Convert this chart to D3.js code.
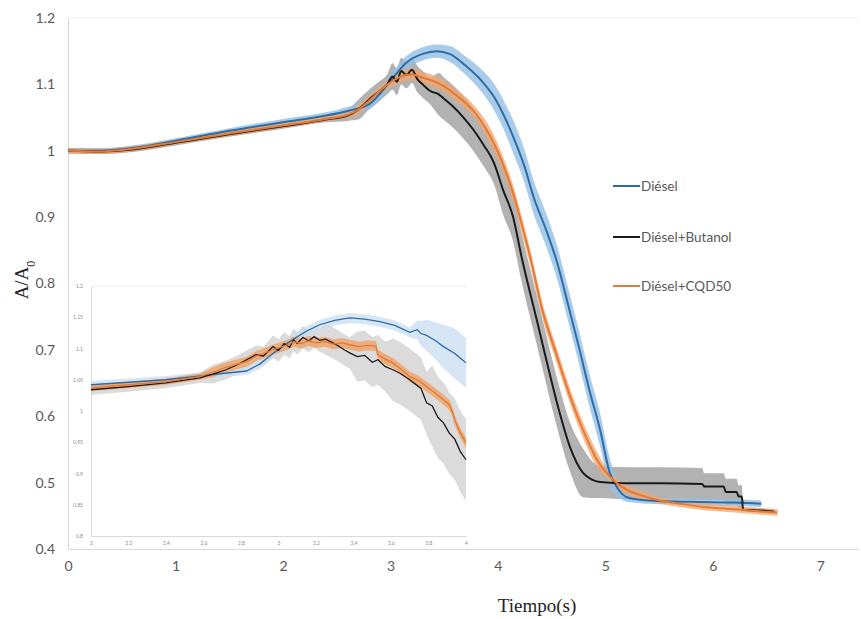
<!DOCTYPE html>
<html>
<head>
<meta charset="utf-8">
<script src="https://cdn.jsdelivr.net/npm/d3@7"></script>
<style>
  body { margin: 0; background: #fff; }
  svg { display: block; }
</style>
</head>
<body>
<svg id="chart" width="861" height="619"></svg>
<script>
// ---- data ----
const xTicks = [0, 1, 2, 3, 4, 5, 6, 7]
const yTicks = [0.4, 0.5, 0.6, 0.7, 0.8, 0.9, 1, 1.1, 1.2]
const insetXTicks = [2, 2.2, 2.4, 2.6, 2.8, 3, 3.2, 3.4, 3.6, 3.8, 4]
const insetYTicks = [0.8, 0.85, 0.9, 0.95, 1, 1.05, 1.1, 1.15, 1.2]

const seriesNames = ['Diésel', 'Diésel+Butanol', 'Diésel+CQD50']

// Diésel
const timeDiesel = [0, 0.3, 0.6, 1.0, 1.5, 2.0, 2.4, 2.6, 2.8, 3.0, 3.15, 3.3, 3.43, 3.55, 3.7, 3.85, 3.96, 4.05, 4.14, 4.25, 4.33, 4.45, 4.55, 4.65, 4.76, 4.85, 4.95, 5.04, 5.12, 5.2, 5.4, 5.8, 6.2, 6.45]
const valDiesel = [1.0, 1.0, 1.004, 1.015, 1.03, 1.043, 1.053, 1.06, 1.07, 1.105, 1.133, 1.146, 1.15, 1.146, 1.128, 1.105, 1.082, 1.055, 1.022, 0.975, 0.931, 0.88, 0.832, 0.77, 0.70, 0.64, 0.58, 0.515, 0.49, 0.478, 0.473, 0.471, 0.47, 0.468]
const sdDiesel = [0.004, 0.004, 0.004, 0.004, 0.004, 0.005, 0.005, 0.006, 0.008, 0.01, 0.01, 0.01, 0.01, 0.012, 0.014, 0.017, 0.02, 0.022, 0.025, 0.025, 0.025, 0.025, 0.025, 0.025, 0.025, 0.025, 0.025, 0.022, 0.012, 0.007, 0.005, 0.005, 0.005, 0.005]

// Diésel+Butanol
const timeButanol = [0, 0.3, 0.6, 1.0, 1.5, 2.0, 2.4, 2.6, 2.7, 2.8, 2.9, 2.97, 3.02, 3.06, 3.1, 3.15, 3.2, 3.25, 3.3, 3.37, 3.45, 3.5, 3.58, 3.68, 3.77, 3.87, 3.96, 4.05, 4.14, 4.22, 4.36, 4.45, 4.55, 4.67, 4.79, 4.87, 4.95, 5.2, 5.5, 5.9, 5.92, 6.1, 6.12, 6.22, 6.24, 6.27, 6.28, 6.45, 6.57]
const valButanol = [1.0, 0.999, 1.002, 1.012, 1.025, 1.037, 1.047, 1.053, 1.062, 1.077, 1.09, 1.1, 1.112, 1.104, 1.12, 1.114, 1.122, 1.108, 1.1, 1.09, 1.085, 1.078, 1.067, 1.05, 1.032, 1.008, 0.983, 0.94, 0.901, 0.84, 0.746, 0.685, 0.62, 0.554, 0.515, 0.505, 0.501, 0.499, 0.499, 0.498, 0.494, 0.494, 0.486, 0.486, 0.479, 0.479, 0.459, 0.458, 0.456]
const sdButanol = [0.004, 0.004, 0.004, 0.004, 0.004, 0.004, 0.004, 0.008, 0.015, 0.015, 0.015, 0.015, 0.02, 0.02, 0.02, 0.02, 0.02, 0.02, 0.02, 0.02, 0.032, 0.032, 0.032, 0.032, 0.032, 0.032, 0.032, 0.037, 0.037, 0.037, 0.037, 0.037, 0.037, 0.037, 0.037, 0.028, 0.024, 0.024, 0.024, 0.024, 0.02, 0.02, 0.02, 0.02, 0.017, 0.017, 0.003, 0.003, 0.003]

// Diésel+CQD50
const timeCqd = [0, 0.3, 0.6, 1.0, 1.5, 2.0, 2.4, 2.6, 2.7, 2.8, 2.9, 3.0, 3.1, 3.2, 3.3, 3.4, 3.5, 3.6, 3.7, 3.8, 3.9, 3.99, 4.07, 4.14, 4.22, 4.3, 4.42, 4.53, 4.64, 4.74, 4.83, 4.92, 5.01, 5.1, 5.2, 5.35, 5.48, 5.7, 5.94, 6.2, 6.35, 6.5, 6.6]
const valCqd = [1.0, 0.999, 1.003, 1.013, 1.026, 1.038, 1.048, 1.054, 1.062, 1.075, 1.09, 1.103, 1.112, 1.115, 1.11, 1.105, 1.097, 1.085, 1.072, 1.055, 1.03, 1.002, 0.97, 0.937, 0.89, 0.84, 0.756, 0.70, 0.645, 0.60, 0.565, 0.535, 0.515, 0.5, 0.489, 0.48, 0.474, 0.468, 0.463, 0.46, 0.458, 0.456, 0.455]
const sdCqd = [0.004, 0.004, 0.004, 0.004, 0.004, 0.004, 0.004, 0.004, 0.007, 0.007, 0.007, 0.007, 0.009, 0.009, 0.009, 0.009, 0.009, 0.009, 0.009, 0.009, 0.012, 0.012, 0.012, 0.012, 0.012, 0.012, 0.012, 0.012, 0.012, 0.012, 0.012, 0.012, 0.007, 0.007, 0.007, 0.007, 0.005, 0.005, 0.005, 0.005, 0.005, 0.005, 0.005]

// inset (zoom of 2 s – 4 s)
const insetTimeDiesel = [2.0, 2.2, 2.4, 2.55, 2.7, 2.83, 2.9, 2.97, 3.03, 3.08, 3.15, 3.22, 3.3, 3.38, 3.46, 3.54, 3.62, 3.7, 3.74, 3.76, 3.79, 3.84, 3.88, 3.94, 3.98, 4.0]
const insetValDiesel = [1.042, 1.046, 1.05, 1.055, 1.06, 1.064, 1.075, 1.092, 1.105, 1.115, 1.128, 1.138, 1.145, 1.149, 1.147, 1.143, 1.137, 1.126, 1.13, 1.124, 1.121, 1.112, 1.103, 1.092, 1.082, 1.077]
const insetSdDiesel = [0.006, 0.006, 0.006, 0.006, 0.006, 0.006, 0.008, 0.008, 0.008, 0.008, 0.008, 0.008, 0.008, 0.008, 0.008, 0.008, 0.008, 0.008, 0.015, 0.02, 0.025, 0.03, 0.035, 0.04, 0.04, 0.04]

const insetTimeButanol = [2.0, 2.2, 2.4, 2.58, 2.65, 2.72, 2.78, 2.83, 2.88, 2.92, 2.97, 3.0, 3.03, 3.06, 3.08, 3.1, 3.13, 3.16, 3.19, 3.22, 3.25, 3.29, 3.32, 3.35, 3.38, 3.42, 3.46, 3.5, 3.53, 3.57, 3.61, 3.65, 3.7, 3.73, 3.76, 3.79, 3.82, 3.85, 3.88, 3.91, 3.94, 3.97, 4.0]
const insetValButanol = [1.034, 1.039, 1.045, 1.053, 1.059, 1.066, 1.074, 1.082, 1.09, 1.088, 1.103, 1.097, 1.108, 1.102, 1.114, 1.108, 1.118, 1.112, 1.119, 1.113, 1.115, 1.109, 1.104, 1.098, 1.093, 1.087, 1.089, 1.078, 1.082, 1.071, 1.066, 1.06, 1.05, 1.043, 1.036, 1.013, 1.008, 0.99, 0.981, 0.965, 0.955, 0.935, 0.922]
const insetSdButanol = [0.008, 0.008, 0.008, 0.008, 0.015, 0.015, 0.015, 0.015, 0.015, 0.015, 0.018, 0.018, 0.018, 0.018, 0.018, 0.018, 0.018, 0.018, 0.018, 0.018, 0.025, 0.025, 0.025, 0.025, 0.025, 0.04, 0.04, 0.04, 0.04, 0.04, 0.05, 0.05, 0.05, 0.05, 0.05, 0.05, 0.065, 0.065, 0.065, 0.065, 0.065, 0.065, 0.065]

const insetTimeCqd = [2.0, 2.2, 2.4, 2.58, 2.65, 2.72, 2.78, 2.83, 2.88, 2.92, 2.97, 3.01, 3.05, 3.08, 3.12, 3.16, 3.2, 3.25, 3.29, 3.34, 3.38, 3.43, 3.47, 3.52, 3.53, 3.57, 3.61, 3.65, 3.7, 3.75, 3.79, 3.83, 3.88, 3.91, 3.93, 3.94, 3.97, 4.0]
const insetValCqd = [1.037, 1.042, 1.047, 1.055, 1.062, 1.07, 1.075, 1.079, 1.088, 1.092, 1.098, 1.102, 1.106, 1.111, 1.108, 1.112, 1.109, 1.111, 1.107, 1.109, 1.106, 1.103, 1.105, 1.104, 1.09, 1.083, 1.077, 1.068, 1.055, 1.048, 1.039, 1.03, 1.018, 1.01, 0.997, 0.985, 0.965, 0.949]
const insetSdCqd = [0.005, 0.005, 0.005, 0.005, 0.008, 0.008, 0.008, 0.008, 0.008, 0.008, 0.008, 0.008, 0.008, 0.008, 0.008, 0.008, 0.008, 0.008, 0.008, 0.008, 0.008, 0.008, 0.008, 0.008, 0.008, 0.008, 0.008, 0.008, 0.008, 0.008, 0.008, 0.008, 0.008, 0.008, 0.008, 0.008, 0.008, 0.008]

// ---- drawing ----
const svg = d3.select('#chart')
const lineColors = ['#2e6ca4', '#1a1a1a', '#e57a35']
const bandColors = ['#93bfe6', '#7f7f7f', '#f2a56e']
const bandOpacity = [0.8, 0.6, 0.75]
const axisColor = '#d9d9d9'
const labelColor = '#595959'

function zip(t, v, sd) {
  return t.map((d, i) => ({ t: d, v: v[i], sd: sd[i] }))
}

const mainSeries = [
  zip(timeDiesel, valDiesel, sdDiesel),
  zip(timeButanol, valButanol, sdButanol),
  zip(timeCqd, valCqd, sdCqd)
]
const insetSeries = [
  zip(insetTimeDiesel, insetValDiesel, insetSdDiesel),
  zip(insetTimeButanol, insetValButanol, insetSdButanol),
  zip(insetTimeCqd, insetValCqd, insetSdCqd)
]

const x = d3.scaleLinear().domain([0, 7.35]).range([68, 858])
const y = d3.scaleLinear().domain([0.4, 1.2]).range([549, 18])

// faint top border
svg.append('line')
  .attr('x1', x(0)).attr('x2', x(7.35))
  .attr('y1', y(1.2)).attr('y2', y(1.2))
  .style('stroke', '#f0f0f0')

const xAxis = svg.append('g')
  .attr('transform', `translate(0,${y(0.4)})`)
  .call(d3.axisBottom(x).tickValues(xTicks).tickSize(0).tickPadding(12).tickFormat(d3.format('d')))
const yAxis = svg.append('g')
  .attr('transform', `translate(${x(0)},0)`)
  .call(d3.axisLeft(y).tickValues(yTicks).tickSize(0).tickPadding(13).tickFormat(d => +d.toFixed(1)))

for (const ax of [xAxis, yAxis]) {
  ax.select('.domain').style('stroke', axisColor).style('stroke-width', 1.2)
  ax.selectAll('text')
    .style('font-family', 'Lato, "Open Sans", sans-serif')
    .style('font-size', '14px')
    .style('fill', labelColor)
}

// axis titles
const yTitle = svg.append('text')
  .attr('transform', 'translate(28,280) rotate(-90)')
  .attr('text-anchor', 'middle')
  .style('font-family', '"Liberation Serif", "Times New Roman", serif')
  .style('font-size', '19px')
  .style('fill', '#222')
yTitle.append('tspan').text('A/A')
yTitle.append('tspan').text('0').attr('baseline-shift', 'sub').style('font-size', '12px')

svg.append('text')
  .attr('x', 537).attr('y', 612)
  .attr('text-anchor', 'middle')
  .style('font-family', '"Liberation Serif", "Times New Roman", serif')
  .style('font-size', '19px')
  .style('fill', '#222')
  .text('Tiempo(s)')

// main bands and lines
const mainArea = d3.area().curve(d3.curveMonotoneX)
  .x(d => x(d.t)).y0(d => y(d.v - d.sd)).y1(d => y(d.v + d.sd))
const mainLine = d3.line().curve(d3.curveMonotoneX)
  .x(d => x(d.t)).y(d => y(d.v))

const bandOrder = [1, 0, 2]
bandOrder.forEach(i => {
  svg.append('path')
    .datum(mainSeries[i])
    .attr('d', mainArea)
    .style('fill', bandColors[i])
    .style('fill-opacity', bandOpacity[i])
})
;[0, 1, 2].forEach(i => {
  svg.append('path')
    .datum(mainSeries[i])
    .attr('d', mainLine)
    .style('fill', 'none')
    .style('stroke', lineColors[i])
    .style('stroke-width', 2)
})

// legend
const legendY = [186, 237, 286]
seriesNames.forEach((name, i) => {
  svg.append('line')
    .attr('x1', 613).attr('x2', 640)
    .attr('y1', legendY[i]).attr('y2', legendY[i])
    .style('stroke', lineColors[i])
    .style('stroke-width', 2)
  svg.append('text')
    .attr('x', 641).attr('y', legendY[i] + 5)
    .style('font-family', 'Lato, "Open Sans", sans-serif')
    .style('font-size', '13.5px')
    .style('fill', labelColor)
    .text(name)
})

// ---- inset ----
const ix = d3.scaleLinear().domain([2, 4]).range([91, 466])
const iy = d3.scaleLinear().domain([0.8, 1.2]).range([536, 286])
const inset = svg.append('g')

inset.append('rect')
  .attr('x', 69).attr('y', 279)
  .attr('width', 404).attr('height', 269)
  .style('fill', '#fff')

inset.append('line')
  .attr('x1', ix(2)).attr('x2', ix(4))
  .attr('y1', iy(1.2)).attr('y2', iy(1.2))
  .style('stroke', '#ececec')

const ixAxis = inset.append('g')
  .attr('transform', `translate(0,${iy(0.8)})`)
  .call(d3.axisBottom(ix).tickValues(insetXTicks).tickSize(0).tickPadding(5).tickFormat(d => +d.toFixed(1)))
const iyAxis = inset.append('g')
  .attr('transform', `translate(${ix(2)},0)`)
  .call(d3.axisLeft(iy).tickValues(insetYTicks).tickSize(0).tickPadding(8).tickFormat(d => +d.toFixed(2)))
for (const ax of [ixAxis, iyAxis]) {
  ax.select('.domain').style('stroke', axisColor)
  ax.selectAll('text')
    .style('font-family', 'Lato, sans-serif')
    .style('font-size', '5px')
    .style('fill', '#8c8c8c')
}

inset.append('clipPath').attr('id', 'insetClip')
  .append('rect')
  .attr('x', ix(2)).attr('y', iy(1.2))
  .attr('width', ix(4) - ix(2) + 2).attr('height', iy(0.8) - iy(1.2))

const insetPlot = inset.append('g').attr('clip-path', 'url(#insetClip)')
const insetArea = d3.area()
  .x(d => ix(d.t)).y0(d => iy(d.v - d.sd)).y1(d => iy(d.v + d.sd))
const insetLine = d3.line()
  .x(d => ix(d.t)).y(d => iy(d.v))

const insetBandColors = ['#c9def2', '#c8c8c8', '#f0a064']
const insetBandOpacity = [0.75, 0.65, 0.8]
bandOrder.forEach(i => {
  insetPlot.append('path')
    .datum(insetSeries[i])
    .attr('d', insetArea)
    .style('fill', insetBandColors[i])
    .style('fill-opacity', insetBandOpacity[i])
})
;[0, 1, 2].forEach(i => {
  insetPlot.append('path')
    .datum(insetSeries[i])
    .attr('d', insetLine)
    .style('fill', 'none')
    .style('stroke', lineColors[i])
    .style('stroke-width', 1.3)
})
</script>
</body>
</html>
